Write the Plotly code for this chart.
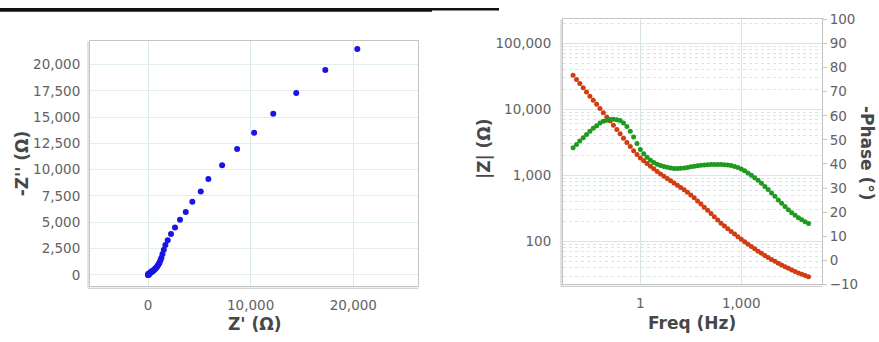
import plotly.graph_objects as go

# ---------------- data ----------------
# Nyquist plot (left)
z_real = [20390, 17270, 14440, 12200, 10340, 8680, 7220, 5880, 5140, 4320, 3680, 3120,
          2630, 2240, 1920, 1690, 1540, 1410, 1307, 1213, 1125, 1053, 975, 908, 842, 776,
          714, 663, 615, 572, 530, 490, 453, 418, 384, 348, 312, 280, 251, 224, 200, 179,
          160, 143, 128, 116, 106, 97, 89, 81, 75, 69, 65, 60, 56, 53, 49, 47, 44, 42, 39,
          37, 36, 34, 32, 31, 29, 28, 27, 26, 25]
z_imag_neg = [21470, 19470, 17300, 15310, 13500, 11960, 10420, 9120, 7910, 6950, 5980, 5230,
              4500, 3870, 3290, 2840, 2380, 1980, 1625, 1371, 1165, 1024, 903, 806, 722, 649,
              586, 537, 491, 451, 416, 384, 356, 330, 305, 280, 253, 229, 207, 185, 166, 149,
              134, 119, 106, 96, 87, 79, 72, 65, 58, 53, 47, 43, 38, 34, 31, 28, 25, 22, 20,
              17.5, 15.6, 13.9, 12.4, 11.1, 9.9, 8.9, 8.1, 7.4, 6.8]

# Bode plot (right)
freq_hz = [0.01, 0.0126, 0.0158, 0.02, 0.0251, 0.0316, 0.0398, 0.0501, 0.0631, 0.0794,
           0.1, 0.126, 0.158, 0.2, 0.251, 0.316, 0.398, 0.501, 0.631, 0.794,
           1, 1.26, 1.58, 2, 2.51, 3.16, 3.98, 5.01, 6.31, 7.94,
           10, 12.6, 15.8, 20, 25.1, 31.6, 39.8, 50.1, 63.1, 79.4,
           100, 126, 158, 200, 251, 316, 398, 501, 631, 794,
           1000, 1260, 1580, 2000, 2510, 3160, 3980, 5010, 6310, 7940,
           10000, 12600, 15800, 20000, 25100, 31600, 39800, 50100, 63100, 79400,
           100000]
z_mod = [32700, 28300, 24500, 21200, 18300, 15800, 13700, 11900, 10300, 8870,
         7670, 6640, 5730, 4930, 4250, 3660, 3160, 2730, 2370, 2080,
         1840, 1670, 1510, 1380, 1260, 1150, 1050, 970, 895, 828,
         766, 708, 655, 605, 558, 507, 457, 411, 369, 330,
         296, 265, 237, 212, 189, 171, 156, 142, 130, 118,
         108, 99, 91, 83.8, 77.3, 71.4, 66.2, 61.5, 57.3, 53.5,
         50.0, 46.9, 44.1, 41.5, 39.2, 37.1, 35.2, 33.4, 31.8, 30.5,
         29.2]
phase_neg = [46.7, 48.1, 49.5, 50.9, 52.2, 53.6, 54.8, 55.9, 57.0, 57.7,
             58.2, 58.5, 58.6, 58.4, 58.0, 57.0, 55.6, 53.6, 51.2, 48.5,
             46.0, 44.2, 42.8, 41.6, 40.6, 39.9, 39.4, 39.0, 38.6, 38.3,
             38.1, 38.1, 38.2, 38.3, 38.5, 38.8, 39.1, 39.3, 39.5, 39.6,
             39.7, 39.8, 39.8, 39.8, 39.8, 39.7, 39.6, 39.4, 39.0, 38.5,
             37.9, 37.2, 36.3, 35.3, 34.3, 33.2, 32.0, 30.7, 29.4, 28.0,
             26.6, 25.1, 23.7, 22.3, 21.0, 19.8, 18.7, 17.7, 16.8, 16.0,
             15.3]

nyq_xticks = [0, 10000, 20000]
bode_xticks = [1, 1000]
bode_yticks = [100, 1000, 10000, 100000]

# ---------------- layout helpers ----------------
W, H = 879, 342
def px(x):
    return x / W
def py(y):
    return (H - y) / H

L1 = (90, 418, 35, 292)   # left plot box (x0, x1, ytop, ybottom) in pixels
L2 = (563, 822, 12, 290)  # right plot box

tick_font = dict(family="DejaVu Sans, Verdana, sans-serif", size=13.5, color="#626262")
title_font = dict(family="DejaVu Sans, Verdana, sans-serif", size=17, color="#474747")
frame = "#c4c4c4"
grid = "#e3eeee"

fig = go.Figure()

fig.add_trace(go.Scatter(x=z_real, y=z_imag_neg, mode="markers",
                         marker=dict(color="#1a14e6", size=6),
                         xaxis="x", yaxis="y", showlegend=False))
fig.add_trace(go.Scatter(x=freq_hz, y=z_mod, mode="markers",
                         marker=dict(color="#d23c12", size=5),
                         xaxis="x2", yaxis="y2", showlegend=False))
fig.add_trace(go.Scatter(x=freq_hz, y=phase_neg, mode="markers",
                         marker=dict(color="#1f9a1f", size=5),
                         xaxis="x2", yaxis="y3", showlegend=False))

fig.update_layout(
    width=W, height=H,
    margin=dict(l=0, r=0, t=0, b=0),
    paper_bgcolor="white", plot_bgcolor="white",
    xaxis=dict(domain=[px(L1[0]), px(L1[1])], anchor="y", range=[-5650, 26300],
               tickvals=nyq_xticks, tickformat=",", tickfont=tick_font,
               showgrid=True, gridcolor="#d6eaea", zeroline=False,
               showline=True, linecolor=frame, mirror=True, ticks="", ticklabelstandoff=6),
    yaxis=dict(domain=[py(L1[3]), py(L1[2])], anchor="x", range=[-1100, 22200],
               dtick=2500, tickformat=",", tickfont=tick_font,
               showgrid=True, gridcolor=grid, zeroline=False,
               showline=True, linecolor=frame, mirror=True, ticks="", ticklabelstandoff=6),
    xaxis2=dict(domain=[px(L2[0]), px(L2[1])], anchor="y2", type="log", range=[-2.3, 5.4],
                tickvals=bode_xticks, ticktext=["1", "1,000"], tickfont=tick_font,
                showgrid=True, gridcolor="#d6e4ea", zeroline=False,
                showline=True, linecolor=frame, mirror=True, ticks="", ticklabelstandoff=6),
    yaxis2=dict(domain=[py(L2[3]), py(L2[2])], anchor="x2", type="log", range=[1.35, 5.36],
                tickvals=bode_yticks, ticktext=["100", "1,000", "10,000", "100,000"],
                tickfont=tick_font, showgrid=True, gridcolor="#d4e6e6", zeroline=False,
                minor=dict(dtick="D1", showgrid=True, gridcolor="#cfe8e8", griddash="dot"),
                showline=True, linecolor=frame, mirror=True, ticks="", ticklabelstandoff=8),
    yaxis3=dict(domain=[py(L2[3]), py(L2[2])], anchor="x2", overlaying="y2", side="right",
                range=[-10, 100], dtick=10, tickfont=tick_font, showgrid=False,
                zeroline=False, showline=True, linecolor=frame,
                ticks="outside", ticklen=4, tickcolor=frame),
)

ann = [
    dict(text="-Z'' (Ω)", x=px(22), y=py(163), textangle=-90),
    dict(text="Z' (Ω)", x=px(254), y=py(331), textangle=0),
    dict(text="|Z| (Ω)", x=px(484), y=py(148), textangle=-90),
    dict(text="Freq (Hz)", x=px(692), y=py(330), textangle=0),
    dict(text="-Phase (°)", x=px(867), y=py(152), textangle=90),
]
for a in ann:
    fig.add_annotation(xref="paper", yref="paper", showarrow=False,
                       xanchor="center", yanchor="middle",
                       font=dict(title_font, weight="bold"), **a)

# double frame edges (left and bottom) and cropped heading band at top
shapes = []
for (x0, x1, yt, yb) in (L1, L2):
    shapes.append(dict(type="line", xref="paper", yref="paper",
                       x0=px(x0 - 2), x1=px(x0 - 2), y0=py(yb + 2), y1=py(yt),
                       line=dict(color=frame, width=1)))
    shapes.append(dict(type="line", xref="paper", yref="paper",
                       x0=px(x0 - 2), x1=px(x1), y0=py(yb + 2), y1=py(yb + 2),
                       line=dict(color=frame, width=1)))
shapes.append(dict(type="rect", xref="paper", yref="paper",
                   x0=0, x1=px(432), y0=py(4), y1=1, line=dict(width=0), fillcolor="#111111"))
shapes.append(dict(type="rect", xref="paper", yref="paper",
                   x0=px(432), x1=px(499), y0=py(2.5), y1=1, line=dict(width=0), fillcolor="#111111"))
fig.update_layout(shapes=shapes)

pin_js = ("document.documentElement.style.margin='0';document.body.style.margin='0';"
          "document.body.style.overflow='hidden';"
          "var d=document.getElementById('{plot_id}');"
          "d.style.position='fixed';d.style.left='0px';d.style.top='0px';")
fig.write_html("out.html", post_script=pin_js, config={"displayModeBar": False})
